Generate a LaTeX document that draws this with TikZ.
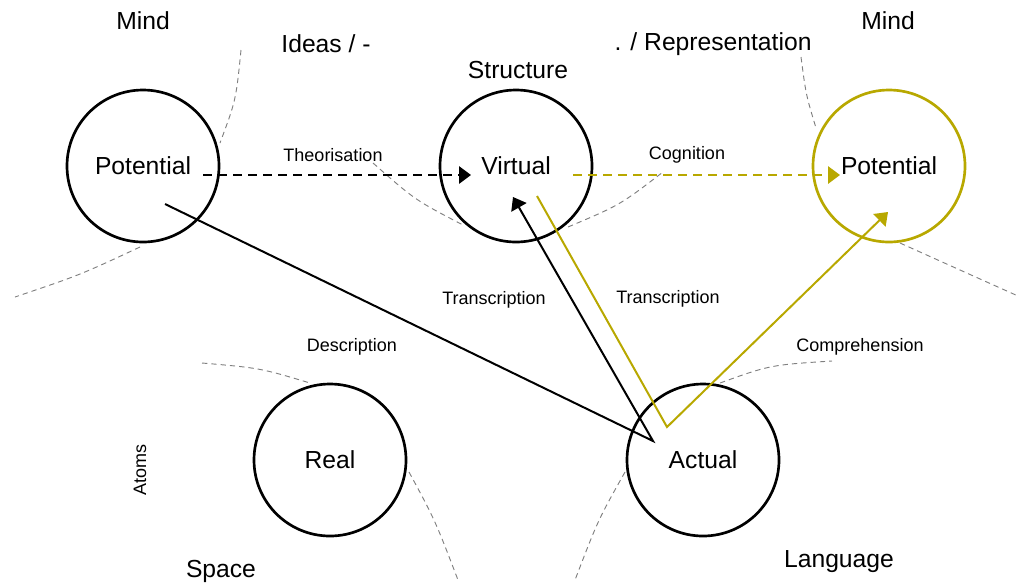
\documentclass[tikz,border=0pt]{standalone}
\usepackage{fontspec}
\setmainfont{Liberation Sans}
\usetikzlibrary{arrows.meta}
\definecolor{olivec}{RGB}{184,168,0}
\begin{document}
\begin{tikzpicture}[x=0.75pt,y=-0.75pt,
  ring/.style={circle, draw, line width=2pt, fill=white, minimum size=114pt, inner sep=0pt, font=\fontsize{18.5}{22}\selectfont},
  big/.style={inner sep=0pt, font=\fontsize{18.5}{22}\selectfont},
  small/.style={inner sep=0pt, font=\fontsize{13.5}{16}\selectfont},
  guide/.style={draw=gray, line width=0.7pt, dash pattern=on 4pt off 3pt},
  conn/.style={line width=1.5pt},
  tipped/.style={-{Triangle[length=9pt,width=13pt]}},
  dashconn/.style={conn, dash pattern=on 6.75pt off 4.5pt}]
\useasboundingbox (0,0) rectangle (1020,587);
% guide arcs
\draw[guide] (241,50) .. controls (236,100) .. (220,143);
\draw[guide] (140,247) .. controls (80,275) .. (15,297);
\draw[guide] (373,163) .. controls (415,200) .. (463,225);
\draw[guide] (568,227) .. controls (620,205) .. (663,172);
\draw[guide] (801,57) .. controls (806,95) .. (816,128);
\draw[guide] (900,243) .. controls (960,270) .. (1018,296);
\draw[guide] (202,363) .. controls (260,368) .. (310,383);
\draw[guide] (409,472) .. controls (435,520) .. (458,580);
\draw[guide] (720,383) .. controls (770,365) .. (832,361);
\draw[guide] (625,472) .. controls (598,520) .. (575,580);
% circles
\node[ring] (potL) at (143,166) {Potential};
\node[ring] (virt) at (516,166) {Virtual};
\node[ring, draw=olivec] (potR) at (889,166) {Potential};
\node[ring] (real) at (330,460) {Real};
\node[ring] (act) at (703,460) {Actual};
% region labels
\node[big] (mindL) at (143,21) {Mind};
\node[big] (ideas) at (326,44) {Ideas / -};
\node[big] (struct) at (518,70) {Structure};
\node[big] (repr) at (713,44) {. / Representation};
\node[big] (mindR) at (888,21) {Mind};
\node[big] (space) at (221,571) {Space};
\node[big] (lang) at (839,562) {Language};
% connector labels
\node[small] (theo) at (333,155) {Theorisation};
\node[small] (cogn) at (687,155) {Cognition};
\node[small] (trL) at (494,300) {Transcription};
\node[small] (trR) at (668,299) {Transcription};
\node[small] (desc) at (352,347) {Description};
\node[small] (comp) at (860,347) {Comprehension};
\node[small, rotate=90] (atoms) at (140,470) {Atoms};
% connector points
\coordinate (pLa) at (203,175);
\coordinate (vIn) at (471,175);
\coordinate (vOut) at (573,175);
\coordinate (pRIn) at (840,175);
\coordinate (pLb) at (165,204);
\coordinate (aBend) at (653,441);
\coordinate (vLow) at (513,197);
\coordinate (vLow2) at (537,196);
\coordinate (oBend) at (667,427);
\coordinate (pRLow) at (888,212);
% connectors
\draw[dashconn, tipped] (pLa) -- (vIn);
\draw[dashconn, tipped, draw=olivec] (vOut) -- (pRIn);
\draw[conn, tipped] (pLb) -- (aBend) -- (vLow);
\draw[conn, tipped, draw=olivec] (vLow2) -- (oBend) -- (pRLow);
\end{tikzpicture}
\end{document}
